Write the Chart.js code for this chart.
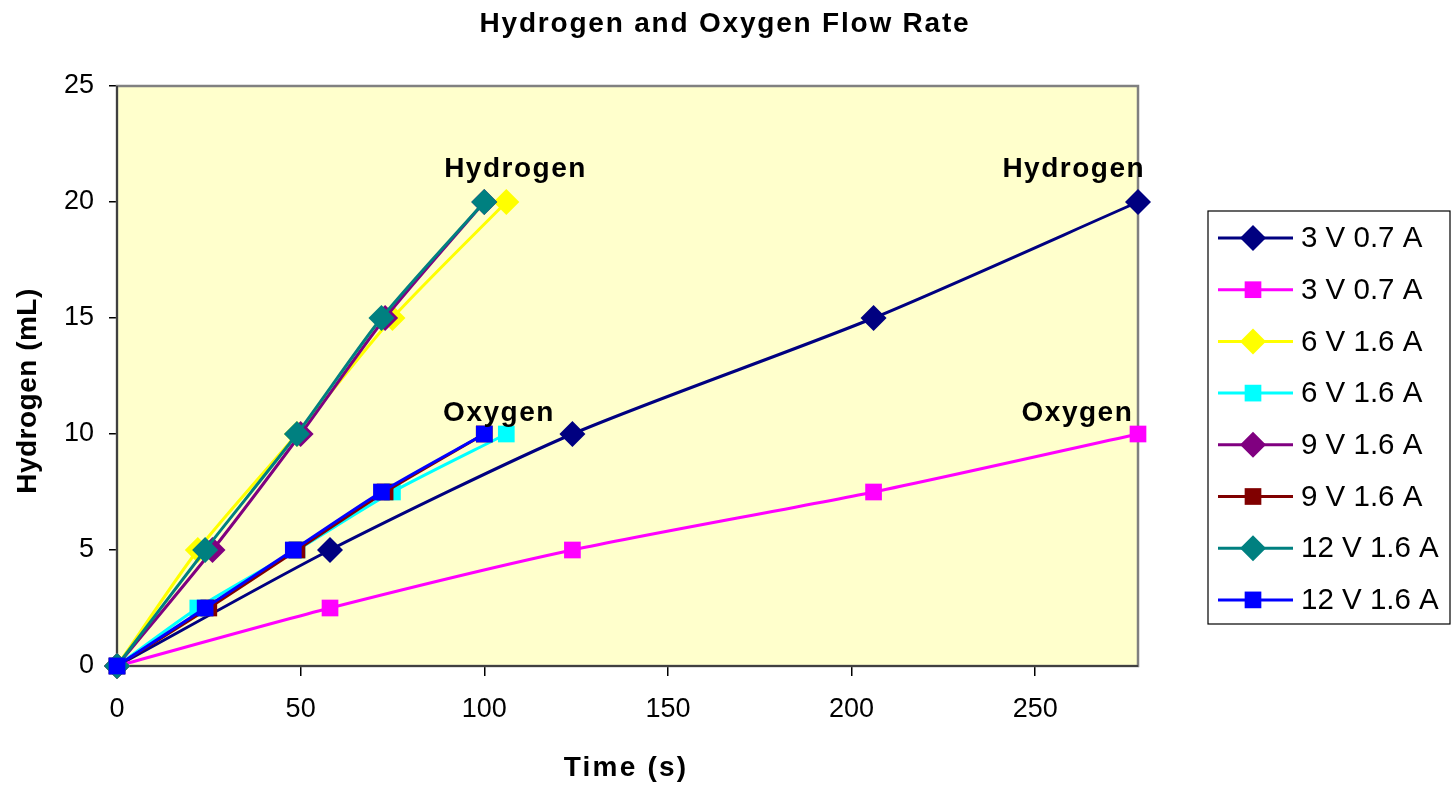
<!DOCTYPE html>
<html>
<head>
<meta charset="utf-8">
<title>Hydrogen and Oxygen Flow Rate</title>
<script src="https://cdn.jsdelivr.net/npm/chart.js@4.4.1/dist/chart.umd.min.js"></script>
<style>
  html, body { margin: 0; padding: 0; background: #fff; }
  #wrap { position: relative; width: 1451px; height: 786px; }
</style>
</head>
<body>
<div id="wrap"><canvas id="flowChart" width="1451" height="786"></canvas></div>
<script>
// series labels, colours and markers (legend order)
const seriesLabels = ['3 V 0.7 A', '3 V 0.7 A', '6 V 1.6 A', '6 V 1.6 A', '9 V 1.6 A', '9 V 1.6 A', '12 V 1.6 A', '12 V 1.6 A'];
const seriesColors = ['#000080', '#FF00FF', '#FFFF00', '#00FFFF', '#800080', '#800000', '#008080', '#0000FF'];
const seriesMarkers = ['rectRot', 'rect', 'rectRot', 'rect', 'rectRot', 'rect', 'rectRot', 'rect'];

// time (s) for each reading, per series
const time3vH = [0, 58, 124, 206, 278];
const time3vO = [0, 58, 124, 206, 278];
const time6vH = [0, 22, 49, 75, 106];
const time6vO = [0, 22, 49, 75, 106];
const time9vH = [0, 26, 50, 73, 100];
const time9vO = [0, 25, 49, 73, 100];
const time12vH = [0, 24, 49, 72, 100];
const time12vO = [0, 24, 48, 72, 100];

// gas volume (mL)
const volHydrogen = [0, 5, 10, 15, 20];
const volOxygen = [0, 2.5, 5, 7.5, 10];

const seriesTimes = [time3vH, time3vO, time6vH, time6vO, time9vH, time9vO, time12vH, time12vO];
const seriesVols = [volHydrogen, volOxygen, volHydrogen, volOxygen, volHydrogen, volOxygen, volHydrogen, volOxygen];

// text labels placed in data space
const noteTexts = ['Hydrogen', 'Hydrogen', 'Oxygen', 'Oxygen'];
const noteX = [108.5, 260.5, 104, 261.5];
const noteY = [21.4, 21.4, 10.9, 10.9];

const xTicks = [0, 50, 100, 150, 200, 250];
const yTicks = [0, 5, 10, 15, 20, 25];

const FONT = '"Liberation Sans", Arial, sans-serif';
const radiusFor = m => (m === 'rect' ? 11.8 : 13);

const datasets = seriesLabels.map((label, i) => ({
  label: label,
  data: seriesTimes[i].map((t, j) => ({ x: t, y: seriesVols[i][j] })),
  borderColor: seriesColors[i],
  backgroundColor: seriesColors[i],
  pointBackgroundColor: seriesColors[i],
  pointBorderColor: seriesColors[i],
  pointBorderWidth: 0,
  pointStyle: seriesMarkers[i],
  pointRadius: radiusFor(seriesMarkers[i]),
  borderWidth: 3,
  showLine: true,
  tension: 0.25,
  clip: false,
  order: seriesLabels.length - 1 - i // later series drawn on top, like the original
}));

// plot area fill + border
const plotFrame = {
  id: 'plotFrame',
  beforeDatasetsDraw(chart) {
    const a = chart.chartArea, ctx = chart.ctx;
    ctx.save();
    ctx.fillStyle = '#FFFFCC';
    ctx.fillRect(a.left, a.top, a.right - a.left, a.bottom - a.top);
    ctx.strokeStyle = '#808080';
    ctx.lineWidth = 2.5;
    ctx.strokeRect(a.left, a.top, a.right - a.left, a.bottom - a.top);
    ctx.strokeStyle = '#404040';
    ctx.lineWidth = 2;
    ctx.beginPath();
    ctx.moveTo(a.left, a.top);
    ctx.lineTo(a.left, a.bottom);
    ctx.lineTo(a.right, a.bottom);
    ctx.stroke();
    ctx.restore();
  }
};

// chart title, axis titles, text notes and legend box
const extras = {
  id: 'extras',
  afterDraw(chart) {
    const ctx = chart.ctx, xs = chart.scales.x, ys = chart.scales.y;
    ctx.save();
    ctx.fillStyle = '#000';
    ctx.textAlign = 'center';
    ctx.textBaseline = 'middle';

    ctx.font = 'bold 28px ' + FONT;
    ctx.letterSpacing = '1.8px';
    ctx.fillText('Hydrogen and Oxygen Flow Rate', 725, 24);

    ctx.letterSpacing = '2.2px';
    ctx.fillText('Time (s)', 626, 768);

    ctx.letterSpacing = '0.5px';
    ctx.save();
    ctx.translate(28, 391);
    ctx.rotate(-Math.PI / 2);
    ctx.fillText('Hydrogen (mL)', 0, 0);
    ctx.restore();

    ctx.letterSpacing = '1.5px';
    noteTexts.forEach((t, i) => {
      ctx.fillText(t, xs.getPixelForValue(noteX[i]), ys.getPixelForValue(noteY[i]));
    });
    ctx.letterSpacing = '0px';

    // legend
    const bx = 1208, by = 211, bw = 242, bh = 413;
    ctx.strokeStyle = '#000';
    ctx.lineWidth = 1.2;
    ctx.strokeRect(bx, by, bw, bh);
    ctx.font = '29.5px ' + FONT;
    ctx.textAlign = 'left';
    seriesLabels.forEach((label, i) => {
      const yy = 238 + i * 51.7;
      ctx.strokeStyle = seriesColors[i];
      ctx.lineWidth = 3;
      ctx.beginPath();
      ctx.moveTo(1218, yy);
      ctx.lineTo(1293, yy);
      ctx.stroke();
      ctx.fillStyle = seriesColors[i];
      Chart.helpers.drawPoint(ctx, {
        pointStyle: seriesMarkers[i],
        radius: radiusFor(seriesMarkers[i]),
        borderWidth: 0
      }, 1253, yy);
      ctx.fillStyle = '#000';
      ctx.fillText(label, 1301, yy + 1);
    });
    ctx.restore();
  }
};

new Chart(document.getElementById('flowChart'), {
  type: 'scatter',
  data: { datasets: datasets },
  options: {
    responsive: false,
    animation: false,
    layout: { padding: { top: 86, right: 313, bottom: 0, left: 0 } },
    plugins: {
      legend: { display: false },
      title: { display: false },
      tooltip: { enabled: false }
    },
    scales: {
      x: {
        type: 'linear',
        min: 0,
        max: 278,
        afterBuildTicks(scale) { scale.ticks = xTicks.map(v => ({ value: v })); },
        afterFit(scale) { scale.height = 120; },
        grid: { display: true, drawOnChartArea: false, drawTicks: true, tickLength: 10, color: '#000', lineWidth: 1.5 },
        border: { display: false },
        ticks: { color: '#000', font: { family: FONT, size: 27 }, padding: 17, maxRotation: 0 },
        title: { display: false }
      },
      y: {
        type: 'linear',
        min: 0,
        max: 25,
        afterBuildTicks(scale) { scale.ticks = yTicks.map(v => ({ value: v })); },
        afterFit(scale) { scale.width = 117; },
        grid: { display: true, drawOnChartArea: false, drawTicks: true, tickLength: 8, color: '#000', lineWidth: 1.5 },
        border: { display: false },
        ticks: { color: '#000', font: { family: FONT, size: 27 }, padding: 15 },
        title: { display: false }
      }
    }
  },
  plugins: [plotFrame, extras]
});
</script>
</body>
</html>
